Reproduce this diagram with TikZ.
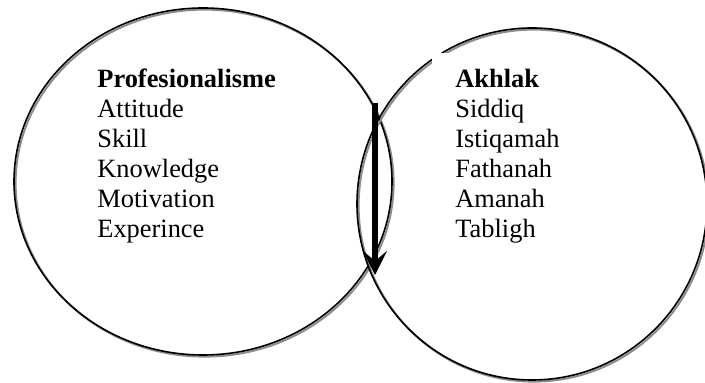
\documentclass[tikz,border=0pt]{standalone}
\usepackage{fontspec}
\setmainfont{Liberation Serif}
\usetikzlibrary{arrows.meta}

\tikzset{
ring/.style={draw=black,line width=0.8pt},
ringshadow/.style={draw=black!45,line width=1pt,shift={(1.6,1.6)}},
list/.style={align=left,inner sep=0pt,anchor=north west,font=\fontsize{13.2}{15}\selectfont},
flow/.style={line width=2.6pt,-{Stealth[length=12pt,width=12pt,inset=5pt]}}
}

\begin{document}
\begin{tikzpicture}[x=0.5pt,y=-0.5pt]
\useasboundingbox (0,0) rectangle (705,383);
\draw[ringshadow] (203,181.5) ellipse [x radius=189, y radius=173.5];
\draw[ring] (203,181.5) ellipse [x radius=189, y radius=173.5];
\draw[ringshadow] (532,204) ellipse [x radius=175, y radius=176];
\draw[ring] (532,204) ellipse [x radius=175, y radius=176];
\node[list] (prof) at (97,69) {\textbf{Profesionalisme}\\Attitude\\Skill\\Knowledge\\Motivation\\Experince};
\node[list,fill=white,inner xsep=11.5pt,inner ysep=8pt] (akhlak) at (432,53) {\textbf{Akhlak}\\Siddiq\\Istiqamah\\Fathanah\\Amanah\\Tabligh};
\coordinate (start) at (375,103);
\coordinate (end) at (375,275);
\draw[flow] (start) -- (end);
\end{tikzpicture}
\end{document}
